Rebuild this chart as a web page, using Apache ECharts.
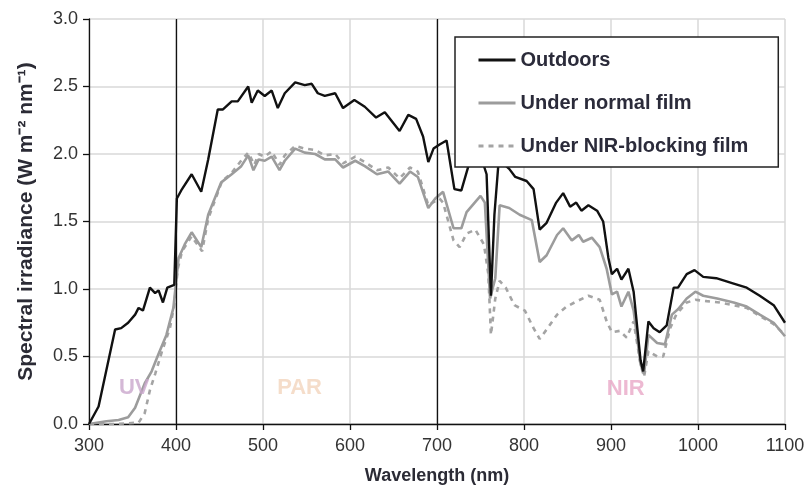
<!DOCTYPE html>
<html>
<head>
<meta charset="utf-8">
<script src="https://cdn.jsdelivr.net/npm/echarts@6/dist/echarts.min.js"></script>
<style>
  html, body { margin: 0; padding: 0; background: #fff; }
  #chart { width: 811px; height: 490px; }
</style>
</head>
<body>
<div id="chart"></div>
<script>
// Spectral irradiance, W m-2 nm-1, by wavelength (nm)
const outdoorsNm = [300, 311, 320, 330, 337, 345, 353, 357, 362, 370, 376, 380, 385, 390, 398, 401, 406, 418, 429, 437, 448, 454, 464, 471, 483, 487, 494, 502, 510, 517, 525, 537, 548, 556, 563, 571, 583, 592, 605, 617, 630, 640, 657, 667, 676, 684, 690, 696, 703, 711, 720, 728, 737, 745, 752, 757, 762, 766, 771, 783, 790, 803, 811, 818, 826, 837, 845, 853, 860, 866, 874, 884, 891, 897, 901, 907, 912, 920, 926, 934, 937, 943, 949, 956, 964, 972, 977, 987, 996, 1006, 1021, 1041, 1056, 1071, 1087, 1100];
const outdoorsVal = [0.00, 0.13, 0.40, 0.70, 0.71, 0.75, 0.81, 0.86, 0.84, 1.01, 0.97, 0.99, 0.90, 1.01, 1.03, 1.67, 1.73, 1.85, 1.72, 1.96, 2.33, 2.33, 2.39, 2.39, 2.50, 2.38, 2.47, 2.43, 2.47, 2.34, 2.45, 2.53, 2.51, 2.52, 2.45, 2.43, 2.45, 2.34, 2.40, 2.35, 2.27, 2.31, 2.17, 2.29, 2.26, 2.13, 1.94, 2.04, 2.07, 2.10, 1.74, 1.73, 1.93, 1.97, 1.95, 1.85, 0.95, 1.55, 1.96, 1.89, 1.83, 1.80, 1.74, 1.44, 1.49, 1.64, 1.71, 1.61, 1.64, 1.58, 1.62, 1.58, 1.50, 1.23, 1.11, 1.15, 1.07, 1.15, 0.98, 0.47, 0.39, 0.76, 0.71, 0.68, 0.73, 1.01, 1.01, 1.11, 1.14, 1.09, 1.08, 1.04, 1.01, 0.95, 0.88, 0.75];

const normalNm = [300, 320, 334, 345, 353, 364, 372, 380, 389, 397, 403, 410, 418, 429, 437, 452, 464, 475, 483, 489, 495, 502, 510, 519, 525, 537, 548, 560, 571, 583, 592, 606, 617, 631, 644, 657, 669, 678, 690, 698, 707, 719, 728, 734, 750, 755, 761, 767, 772, 783, 795, 809, 818, 826, 838, 845, 855, 863, 868, 878, 887, 895, 901, 907, 912, 920, 926, 934, 938, 943, 953, 962, 970, 977, 987, 997, 1006, 1022, 1041, 1056, 1071, 1087, 1100];
const normalVal = [0.00, 0.02, 0.03, 0.05, 0.12, 0.30, 0.39, 0.52, 0.66, 0.86, 1.23, 1.33, 1.42, 1.31, 1.55, 1.79, 1.85, 1.91, 1.99, 1.88, 1.96, 1.95, 1.98, 1.88, 1.95, 2.04, 2.01, 2.00, 1.96, 1.96, 1.90, 1.95, 1.91, 1.85, 1.87, 1.78, 1.87, 1.83, 1.60, 1.67, 1.72, 1.45, 1.45, 1.57, 1.69, 1.64, 0.93, 1.08, 1.62, 1.60, 1.55, 1.51, 1.20, 1.25, 1.40, 1.45, 1.36, 1.40, 1.35, 1.38, 1.31, 1.15, 0.96, 0.98, 0.87, 0.98, 0.84, 0.44, 0.37, 0.66, 0.60, 0.59, 0.81, 0.85, 0.93, 0.98, 0.95, 0.93, 0.90, 0.87, 0.81, 0.75, 0.65];

const nirBlockNm = [300, 330, 357, 364, 370, 376, 384, 393, 398, 402, 407, 418, 430, 437, 453, 464, 476, 483, 490, 495, 502, 510, 519, 525, 537, 548, 560, 571, 583, 592, 606, 617, 631, 644, 657, 669, 678, 690, 703, 707, 719, 726, 734, 744, 754, 759, 762, 767, 772, 779, 789, 801, 811, 818, 826, 838, 849, 861, 874, 887, 895, 901, 910, 918, 926, 934, 938, 943, 953, 960, 968, 975, 987, 997, 1010, 1025, 1041, 1056, 1071, 1087, 1100];
const nirBlockVal = [0.00, 0.00, 0.01, 0.08, 0.25, 0.37, 0.54, 0.71, 0.88, 1.15, 1.28, 1.39, 1.28, 1.52, 1.80, 1.86, 1.96, 2.01, 1.92, 2.00, 1.98, 2.02, 1.92, 1.99, 2.06, 2.04, 2.03, 1.99, 2.00, 1.93, 1.98, 1.94, 1.88, 1.90, 1.82, 1.90, 1.87, 1.62, 1.67, 1.64, 1.36, 1.31, 1.41, 1.44, 1.33, 1.11, 0.66, 0.93, 1.06, 1.01, 0.88, 0.84, 0.71, 0.63, 0.70, 0.81, 0.87, 0.91, 0.95, 0.92, 0.76, 0.68, 0.69, 0.64, 0.76, 0.44, 0.35, 0.54, 0.50, 0.50, 0.71, 0.81, 0.90, 0.92, 0.91, 0.90, 0.88, 0.86, 0.80, 0.74, 0.66];

// Band boundaries and band names
const bandEdges = [400, 700];
const bandNames = ['UV', 'PAR', 'NIR'];
const bandLabelNm = [352, 542, 917];
const bandLabelVal = [0.27, 0.27, 0.26];
const bandColors = ['#c9a6cc', '#f2d5bd', '#e9a7c7'];

const seriesNames = ['Outdoors', 'Under normal film', 'Under NIR-blocking film'];

const FONT = '"Liberation Sans", Arial, Helvetica, sans-serif';
const pairs = (xs, ys) => xs.map((x, i) => [x, ys[i]]);

const chart = echarts.init(document.getElementById('chart'), null, { renderer: 'canvas' });

chart.setOption({
  animation: false,
  backgroundColor: '#ffffff',
  textStyle: { fontFamily: FONT },
  grid: { left: 89, right: 26, top: 19, bottom: 63, containLabel: false },
  xAxis: {
    type: 'value',
    min: 300, max: 1100, interval: 100,
    name: 'Wavelength (nm)',
    nameLocation: 'middle',
    nameGap: 43,
    nameTextStyle: { fontFamily: FONT, fontSize: 18, fontWeight: 'bold', color: '#2b2b35' },
    axisLine: { show: true, onZero: false, lineStyle: { color: '#111', width: 1.3 } },
    axisTick: { show: true, inside: false, length: 6, lineStyle: { color: '#111', width: 1.3 } },
    axisLabel: { fontFamily: FONT, fontSize: 18, color: '#333', margin: 13,
      formatter: v => String(v) },
    splitLine: { show: true, lineStyle: { color: '#d9d9d9', width: 1.5 } }
  },
  yAxis: {
    type: 'value',
    min: 0, max: 3, interval: 0.5,
    name: 'Spectral irradiance (W m\u207B\u00B2 nm\u207B\u00B9)',
    nameLocation: 'middle',
    nameGap: 52,
    nameTextStyle: { fontFamily: FONT, fontSize: 21, fontWeight: 'bold', color: '#2b2b35' },
    axisLine: { show: true, lineStyle: { color: '#111', width: 1.3 } },
    axisTick: { show: true, inside: false, length: 6, lineStyle: { color: '#111', width: 1.3 } },
    axisLabel: { fontFamily: FONT, fontSize: 18, color: '#333', margin: 11,
      formatter: v => v.toFixed(1) },
    splitLine: { show: true, lineStyle: { color: '#d9d9d9', width: 1.5 } }
  },
  legend: {
    data: seriesNames,
    orient: 'vertical',
    left: 455, top: 37,
    z: 10,
    padding: [13, 30, 11, 22],
    itemGap: 23,
    itemWidth: 37,
    itemHeight: 14,
    itemStyle: { opacity: 0 },
    lineStyle: { width: 3 },
    backgroundColor: '#ffffff',
    borderColor: '#222',
    borderWidth: 1.5,
    borderRadius: 0,
    textStyle: { fontFamily: FONT, fontSize: 20, fontWeight: 'bold', color: '#2b2b3a' }
  },
  series: [
    {
      name: seriesNames[2],
      type: 'line',
      data: pairs(nirBlockNm, nirBlockVal),
      symbol: 'none',
      z: 2,
      lineStyle: { color: '#a4a4a4', width: 2.6, type: [5, 5] },
      itemStyle: { color: '#a4a4a4' },
      markLine: {
        silent: true,
        symbol: 'none',
        label: { show: false },
        lineStyle: { color: '#111', width: 1.3, type: 'solid' },
        data: bandEdges.map(x => ({ xAxis: x }))
      }
    },
    {
      name: seriesNames[1],
      type: 'line',
      data: pairs(normalNm, normalVal),
      symbol: 'none',
      z: 3,
      lineStyle: { color: '#9c9c9c', width: 2.6 },
      itemStyle: { color: '#9c9c9c' }
    },
    {
      name: seriesNames[0],
      type: 'line',
      data: pairs(outdoorsNm, outdoorsVal),
      symbol: 'none',
      z: 4,
      lineStyle: { color: '#111111', width: 2.4 },
      itemStyle: { color: '#111111' }
    },
    {
      name: 'bands',
      type: 'scatter',
      symbolSize: 0,
      silent: true,
      z: 5,
      data: bandNames.map((n, i) => ({
        name: n,
        value: [bandLabelNm[i], bandLabelVal[i]],
        label: { color: bandColors[i] }
      })),
      label: {
        show: true,
        position: 'inside',
        formatter: p => p.name,
        fontFamily: FONT,
        fontSize: 22,
        fontWeight: 'bold'
      }
    }
  ]
});
</script>
</body>
</html>
